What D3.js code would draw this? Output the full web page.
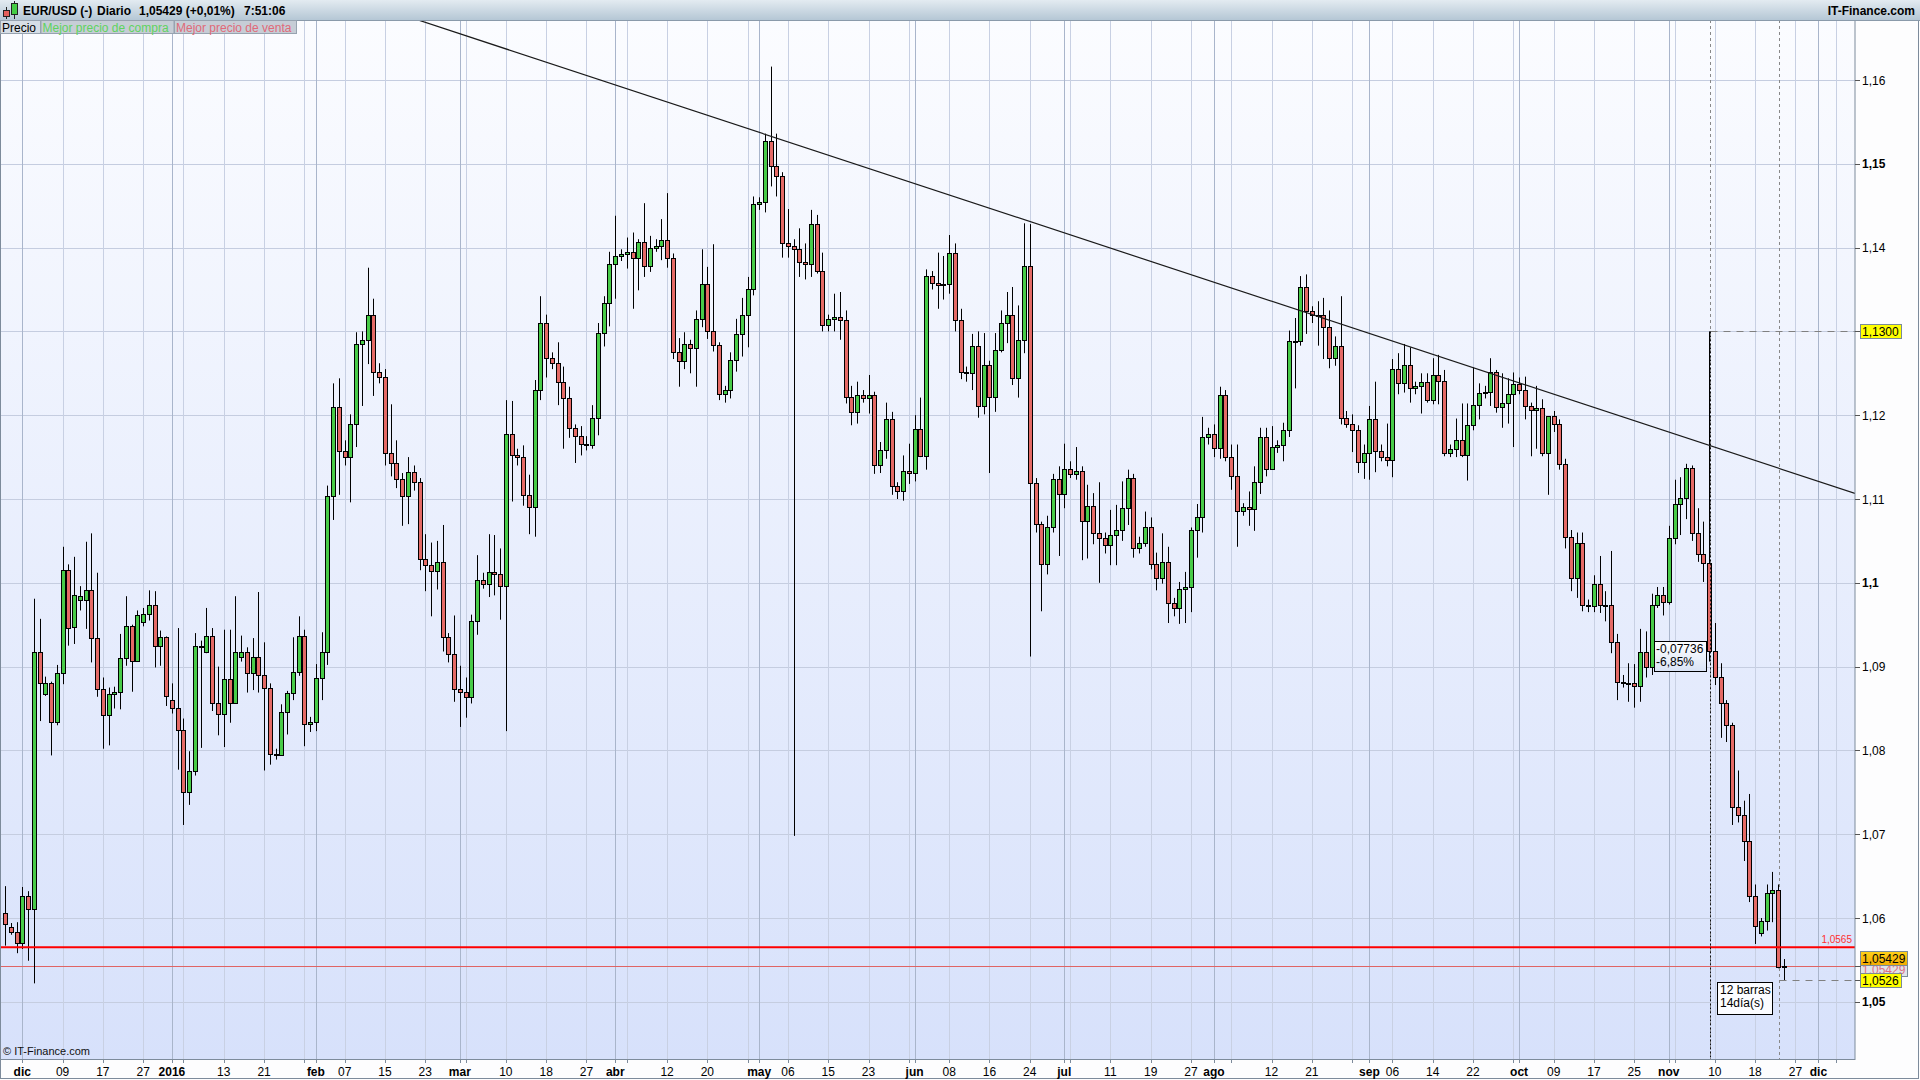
<!DOCTYPE html>
<html><head><meta charset="utf-8">
<script src="https://cdn.jsdelivr.net/npm/d3@7"></script>
<style>
body{margin:0;background:#fff;}
svg{display:block;font-family:"Liberation Sans",Arial,sans-serif;}
</style>
</head><body>
<svg id="chart" width="1920" height="1080"></svg>
<script>
// ---------- DATA: [day, open, high, low, close] per month ----------
const nov2015 = [
[27,1.0606,1.0638,1.0567,1.0593],[29,1.0589,1.0594,1.0580,1.0583],[30,1.0583,1.0595,1.0558,1.0570]];
const dec2015 = [
[1,1.0570,1.0637,1.0563,1.0626],[2,1.0626,1.0632,1.0549,1.0611],[3,1.0611,1.0981,1.0522,1.0917],
[4,1.0917,1.0957,1.0835,1.0880],[6,1.0867,1.0888,1.0865,1.0880],[7,1.0880,1.0882,1.0794,1.0834],
[8,1.0834,1.0902,1.0830,1.0892],[9,1.0892,1.1043,1.0879,1.1015],[10,1.1015,1.1022,1.0925,1.0946],
[11,1.0947,1.1031,1.0927,1.0985],[13,1.0980,1.0996,1.0967,1.0984],[14,1.0980,1.1049,1.0945,1.0991],
[15,1.0991,1.1059,1.0905,1.0934],[16,1.0934,1.1012,1.0864,1.0873],[17,1.0873,1.0887,1.0802,1.0842],
[18,1.0842,1.0875,1.0806,1.0867],[20,1.0867,1.0876,1.0850,1.0870],[21,1.0870,1.0939,1.0849,1.0910],
[22,1.0910,1.0984,1.0901,1.0948],[23,1.0948,1.0950,1.0870,1.0907],[24,1.0907,1.0967,1.0906,1.0961],
[27,1.0953,1.0970,1.0948,1.0963],[28,1.0963,1.0991,1.0955,1.0974],[29,1.0974,1.0990,1.0899,1.0925],
[30,1.0925,1.0943,1.0901,1.0935],[31,1.0935,1.0936,1.0853,1.0865]];
const jan2016 = [
[3,1.0860,1.0880,1.0844,1.0851],[4,1.0851,1.0946,1.0777,1.0824],[5,1.0824,1.0838,1.0711,1.0750],
[6,1.0750,1.0799,1.0735,1.0776],[7,1.0776,1.0940,1.0770,1.0925],[8,1.0925,1.0931,1.0803,1.0923],
[10,1.0917,1.0970,1.0916,1.0936],[11,1.0937,1.0946,1.0847,1.0856],[12,1.0856,1.0900,1.0818,1.0843],
[13,1.0843,1.0944,1.0804,1.0885],[14,1.0885,1.0944,1.0833,1.0856],[15,1.0856,1.0984,1.0856,1.0917],
[17,1.0912,1.0937,1.0906,1.0918],[18,1.0917,1.0923,1.0869,1.0892],[19,1.0892,1.0934,1.0872,1.0911],
[20,1.0911,1.0989,1.0869,1.0890],[21,1.0890,1.0929,1.0776,1.0875],[22,1.0875,1.0880,1.0783,1.0796],
[24,1.0796,1.0802,1.0789,1.0795],[25,1.0795,1.0855,1.0795,1.0846],[26,1.0846,1.0871,1.0819,1.0869],
[27,1.0869,1.0935,1.0860,1.0894],[28,1.0894,1.0960,1.0889,1.0937],[29,1.0937,1.0944,1.0805,1.0831],
[31,1.0831,1.0840,1.0822,1.0834]];
const feb2016 = [
[1,1.0834,1.0903,1.0823,1.0886],[2,1.0886,1.0941,1.0860,1.0918],[3,1.0918,1.1116,1.0902,1.1104],
[4,1.1104,1.1238,1.1075,1.1210],[5,1.1210,1.1244,1.1105,1.1157],[7,1.1157,1.1170,1.1140,1.1150],
[8,1.1150,1.1201,1.1096,1.1190],[9,1.1190,1.1299,1.1162,1.1285],[10,1.1285,1.1300,1.1211,1.1290],
[11,1.1290,1.1376,1.1261,1.1320],[12,1.1320,1.1339,1.1223,1.1252],[14,1.1252,1.1262,1.1238,1.1245],
[15,1.1245,1.1255,1.1140,1.1155],[16,1.1155,1.1213,1.1127,1.1143],[17,1.1143,1.1170,1.1113,1.1124],
[18,1.1124,1.1131,1.1068,1.1104],[19,1.1104,1.1150,1.1070,1.1132],[21,1.1132,1.1140,1.1110,1.1120],
[22,1.1120,1.1125,1.1015,1.1028],[23,1.1028,1.1058,1.0990,1.1021],[24,1.1021,1.1048,1.0960,1.1014],
[25,1.1014,1.1050,1.0992,1.1025],[26,1.1025,1.1069,1.0918,1.0935],[28,1.0935,1.0940,1.0905,1.0915],
[29,1.0915,1.0961,1.0858,1.0873]];
const mar2016 = [
[1,1.0873,1.0901,1.0828,1.0870],[2,1.0870,1.0887,1.0839,1.0864],[3,1.0864,1.0962,1.0856,1.0955],
[4,1.0955,1.1033,1.0938,1.1003],[6,1.1003,1.1012,1.0993,1.0998],[7,1.0998,1.1058,1.0983,1.1013],
[8,1.1013,1.1057,1.0985,1.1010],[9,1.1010,1.1041,1.0956,1.0996],[10,1.0996,1.1218,1.0823,1.1177],
[11,1.1177,1.1217,1.1097,1.1153],[13,1.1153,1.1160,1.1140,1.1150],[14,1.1150,1.1164,1.1092,1.1105],
[15,1.1105,1.1129,1.1058,1.1090],[16,1.1090,1.1242,1.1055,1.1230],[17,1.1230,1.1342,1.1218,1.1310],
[18,1.1310,1.1320,1.1245,1.1268],[20,1.1268,1.1275,1.1255,1.1262],[21,1.1262,1.1287,1.1212,1.1240],
[22,1.1240,1.1258,1.1160,1.1220],[23,1.1220,1.1234,1.1173,1.1185],[24,1.1185,1.1189,1.1143,1.1175],
[25,1.1175,1.1187,1.1152,1.1166],[27,1.1166,1.1175,1.1158,1.1165],[28,1.1165,1.1212,1.1160,1.1197],
[29,1.1197,1.1310,1.1176,1.1298],[30,1.1298,1.1342,1.1282,1.1334],[31,1.1334,1.1395,1.1306,1.1380]];
const apr2016 = [
[1,1.1380,1.1438,1.1339,1.1390],[3,1.1390,1.1398,1.1384,1.1392],[4,1.1392,1.1412,1.1375,1.1395],
[5,1.1395,1.1418,1.1327,1.1387],[6,1.1387,1.1410,1.1349,1.1407],[7,1.1407,1.1453,1.1365,1.1378],
[8,1.1378,1.1414,1.1371,1.1399],[10,1.1399,1.1410,1.1395,1.1402],[11,1.1402,1.1434,1.1385,1.1409],
[12,1.1409,1.1465,1.1376,1.1388],[13,1.1388,1.1393,1.1267,1.1276],[14,1.1276,1.1292,1.1234,1.1265],
[15,1.1265,1.1299,1.1255,1.1285],[17,1.1285,1.1290,1.1250,1.1280],[18,1.1280,1.1325,1.1234,1.1315],
[19,1.1315,1.1398,1.1305,1.1356],[20,1.1356,1.1377,1.1291,1.1300],[21,1.1300,1.1404,1.1276,1.1284],
[22,1.1284,1.1287,1.1218,1.1225],[24,1.1225,1.1235,1.1215,1.1230],[25,1.1230,1.1275,1.1220,1.1266],
[26,1.1266,1.1315,1.1252,1.1297],[27,1.1297,1.1340,1.1270,1.1320],[28,1.1320,1.1365,1.1281,1.1350],
[29,1.1350,1.1461,1.1343,1.1452]];
const may2016 = [
[1,1.1452,1.1460,1.1445,1.1455],[2,1.1455,1.1536,1.1442,1.1527],[3,1.1527,1.1616,1.1473,1.1497],
[4,1.1497,1.1536,1.1461,1.1485],[5,1.1485,1.1490,1.1388,1.1405],[6,1.1405,1.1446,1.1388,1.1402],
[8,1.1402,1.1410,1.0698,1.1398],[9,1.1398,1.1423,1.1365,1.1383],[10,1.1383,1.1405,1.1362,1.1380],
[11,1.1380,1.1445,1.1365,1.1428],[12,1.1428,1.1439,1.1369,1.1372],[13,1.1372,1.1394,1.1300,1.1308],
[15,1.1308,1.1320,1.1300,1.1315],[16,1.1315,1.1345,1.1300,1.1317],[17,1.1317,1.1347,1.1290,1.1314],
[18,1.1314,1.1325,1.1214,1.1222],[19,1.1222,1.1235,1.1188,1.1204],[20,1.1204,1.1240,1.1190,1.1224],
[22,1.1224,1.1230,1.1215,1.1220],[23,1.1220,1.1248,1.1202,1.1224],[24,1.1224,1.1228,1.1130,1.1141],
[25,1.1141,1.1168,1.1131,1.1158],[26,1.1158,1.1215,1.1148,1.1195],[27,1.1195,1.1204,1.1105,1.1115],
[29,1.1115,1.1120,1.1100,1.1110],[30,1.1110,1.1152,1.1098,1.1134],[31,1.1134,1.1166,1.1118,1.1131]];
const jun2016 = [
[1,1.1131,1.1200,1.1121,1.1184],[2,1.1184,1.1221,1.1150,1.1151],[3,1.1151,1.1374,1.1135,1.1366],
[5,1.1366,1.1372,1.1350,1.1358],[6,1.1358,1.1394,1.1327,1.1355],[7,1.1355,1.1390,1.1338,1.1357],
[8,1.1357,1.1415,1.1345,1.1393],[9,1.1393,1.1405,1.1300,1.1314],[10,1.1314,1.1327,1.1243,1.1251],
[12,1.1251,1.1258,1.1240,1.1250],[13,1.1250,1.1297,1.1230,1.1283],[14,1.1283,1.1300,1.1197,1.1211],
[15,1.1211,1.1298,1.1201,1.1260],[16,1.1260,1.1265,1.1131,1.1222],[17,1.1222,1.1298,1.1204,1.1278],
[19,1.1278,1.1325,1.1275,1.1310],[20,1.1310,1.1347,1.1286,1.1319],[21,1.1319,1.1353,1.1236,1.1244],
[22,1.1244,1.1331,1.1221,1.1290],[23,1.1290,1.1429,1.1274,1.1378],[24,1.1378,1.1428,1.0912,1.1119],
[26,1.1119,1.1125,1.1060,1.1070],[27,1.1070,1.1073,1.0966,1.1023],[28,1.1023,1.1080,1.1010,1.1067],
[29,1.1067,1.1130,1.1060,1.1124],[30,1.1124,1.1139,1.1032,1.1106]];
const jul2016 = [
[1,1.1106,1.1166,1.1089,1.1136],[3,1.1136,1.1145,1.1125,1.1130],[4,1.1130,1.1162,1.1123,1.1134],
[5,1.1134,1.1139,1.1027,1.1074],[6,1.1074,1.1117,1.1029,1.1092],[7,1.1092,1.1107,1.1046,1.1059],
[8,1.1059,1.1120,1.1000,1.1053],[10,1.1053,1.1060,1.1035,1.1045],[11,1.1045,1.1087,1.1021,1.1057],
[12,1.1057,1.1093,1.1021,1.1063],[13,1.1063,1.1121,1.1050,1.1089],[14,1.1089,1.1135,1.1069,1.1125],
[15,1.1125,1.1130,1.1030,1.1041],[17,1.1041,1.1055,1.1035,1.1048],[18,1.1048,1.1085,1.1043,1.1067],
[19,1.1067,1.1078,1.1016,1.1023],[20,1.1023,1.1036,1.0991,1.1006],[21,1.1006,1.1059,1.0999,1.1025],
[22,1.1025,1.1043,1.0952,1.0976],[24,1.0976,1.0982,1.0960,1.0970],[25,1.0970,1.1001,1.0951,1.0993],
[26,1.0993,1.1013,1.0952,1.0995],[27,1.0995,1.1066,1.0965,1.1063],[28,1.1063,1.1094,1.1030,1.1078],
[29,1.1078,1.1198,1.1060,1.1174],[31,1.1174,1.1185,1.1165,1.1178]];
const aug2016 = [
[1,1.1178,1.1189,1.1150,1.1161],[2,1.1161,1.1234,1.1148,1.1224],[3,1.1224,1.1230,1.1145,1.1150],
[4,1.1150,1.1165,1.1111,1.1128],[5,1.1128,1.1165,1.1043,1.1086],[7,1.1086,1.1095,1.1080,1.1090],
[8,1.1090,1.1109,1.1068,1.1088],[9,1.1088,1.1139,1.1062,1.1120],[10,1.1120,1.1185,1.1106,1.1174],
[11,1.1174,1.1185,1.1127,1.1136],[12,1.1136,1.1187,1.1136,1.1162],[14,1.1162,1.1170,1.1155,1.1165],
[15,1.1165,1.1191,1.1145,1.1182],[16,1.1182,1.1301,1.1174,1.1288],[17,1.1288,1.1316,1.1232,1.1289],
[18,1.1289,1.1366,1.1283,1.1353],[19,1.1353,1.1368,1.1297,1.1324],[21,1.1324,1.1330,1.1310,1.1320],
[22,1.1320,1.1336,1.1283,1.1319],[23,1.1319,1.1340,1.1267,1.1305],[24,1.1305,1.1325,1.1256,1.1268],
[25,1.1268,1.1294,1.1259,1.1283],[26,1.1283,1.1342,1.1189,1.1197],[28,1.1197,1.1205,1.1185,1.1190],
[29,1.1190,1.1201,1.1156,1.1182],[30,1.1182,1.1188,1.1131,1.1144],[31,1.1144,1.1165,1.1124,1.1155]];
const sep2016 = [
[1,1.1155,1.1211,1.1123,1.1196],[2,1.1196,1.1240,1.1132,1.1157],[4,1.1157,1.1165,1.1145,1.1150],
[5,1.1150,1.1190,1.1139,1.1147],[6,1.1147,1.1267,1.1126,1.1255],[7,1.1255,1.1274,1.1225,1.1238],
[8,1.1238,1.1285,1.1227,1.1260],[9,1.1260,1.1281,1.1215,1.1232],[11,1.1232,1.1240,1.1225,1.1235],
[12,1.1235,1.1250,1.1202,1.1240],[13,1.1240,1.1250,1.1215,1.1218],[14,1.1218,1.1268,1.1213,1.1248],
[15,1.1248,1.1272,1.1213,1.1241],[16,1.1241,1.1254,1.1151,1.1155],[18,1.1155,1.1165,1.1150,1.1160],
[19,1.1160,1.1196,1.1150,1.1170],[20,1.1170,1.1214,1.1150,1.1152],[21,1.1152,1.1214,1.1122,1.1188],
[22,1.1188,1.1257,1.1182,1.1212],[23,1.1212,1.1238,1.1195,1.1226],[25,1.1226,1.1235,1.1220,1.1228],
[26,1.1228,1.1268,1.1211,1.1251],[27,1.1251,1.1254,1.1203,1.1210],[28,1.1210,1.1250,1.1185,1.1214],
[29,1.1214,1.1244,1.1190,1.1225],[30,1.1225,1.1251,1.1162,1.1237]];
const oct2016 = [
[2,1.1237,1.1245,1.1225,1.1230],[3,1.1230,1.1246,1.1195,1.1211],[4,1.1211,1.1215,1.1151,1.1206],
[5,1.1206,1.1235,1.1160,1.1208],[6,1.1208,1.1219,1.1151,1.1155],[7,1.1155,1.1198,1.1105,1.1199],
[9,1.1199,1.1205,1.1180,1.1190],[10,1.1190,1.1195,1.1135,1.1142],[11,1.1142,1.1148,1.1041,1.1055],
[12,1.1055,1.1063,1.0990,1.1006],[13,1.1006,1.1060,1.0982,1.1048],[14,1.1048,1.1060,1.0966,1.0974],
[16,1.0974,1.0980,1.0965,1.0972],[17,1.0972,1.1009,1.0965,1.0998],[18,1.0998,1.1032,1.0964,1.0973],
[19,1.0973,1.0990,1.0954,1.0973],[20,1.0973,1.1038,1.0916,1.0929],[21,1.0929,1.0939,1.0860,1.0882],
[23,1.0882,1.0890,1.0875,1.0880],[24,1.0880,1.0904,1.0858,1.0880],[25,1.0880,1.0903,1.0851,1.0877],
[26,1.0877,1.0945,1.0858,1.0918],[27,1.0918,1.0942,1.0887,1.0899],[28,1.0899,1.0987,1.0890,1.0974],
[30,1.0974,1.0995,1.0970,1.0985],[31,1.0985,1.0995,1.0961,1.0977]];
const nov2016 = [
[1,1.0977,1.1068,1.0974,1.1054],[2,1.1054,1.1123,1.1046,1.1094],[3,1.1094,1.1126,1.1057,1.1101],
[4,1.1101,1.1142,1.1076,1.1137],[6,1.1137,1.1140,1.1050,1.1060],[7,1.1060,1.1089,1.1025,1.1034],
[8,1.1034,1.1073,1.1001,1.1024],[9,1.1024,1.1300,1.0906,1.0919],[10,1.0919,1.0952,1.0878,1.0887],
[11,1.0887,1.0904,1.0815,1.0856],[13,1.0856,1.0860,1.0810,1.0830],[14,1.0830,1.0833,1.0711,1.0732],
[15,1.0732,1.0776,1.0714,1.0723],[16,1.0723,1.0740,1.0668,1.0692],[17,1.0692,1.0748,1.0619,1.0626],
[18,1.0626,1.0640,1.0569,1.0590],[20,1.0582,1.0600,1.0578,1.0597],[21,1.0597,1.0640,1.0585,1.0630],
[22,1.0630,1.0655,1.0595,1.0634],[23,1.0634,1.0640,1.0540,1.0542],[24,1.0542,1.0551,1.0526,1.05429]];
const futureDates = ["2016-11-25","2016-11-27","2016-11-28","2016-11-29","2016-11-30","2016-12-01",
  "2016-12-02","2016-12-04","2016-12-05","2016-12-06","2016-12-07","2016-12-08"];

// axis labels
const yTickValues = [1.05,1.06,1.07,1.08,1.09,1.10,1.11,1.12,1.13,1.14,1.15,1.16];
const yTickLabels = ["1,05","1,06","1,07","1,08","1,09","1,1","1,11","1,12","1,13","1,14","1,15","1,16"];
const yBoldLabels = ["1,05","1,1","1,15"];
const monthTicks = [["2015-12-01","dic"],["2016-01-03","2016"],["2016-02-01","feb"],["2016-03-01","mar"],
  ["2016-04-01","abr"],["2016-05-01","may"],["2016-06-01","jun"],["2016-07-01","jul"],["2016-08-01","ago"],
  ["2016-09-01","sep"],["2016-10-02","oct"],["2016-11-01","nov"],["2016-12-01","dic"]];
const weekTicks = [["2015-12-01",""],["2015-12-09","09"],["2015-12-17","17"],["2015-12-27","27"],["2016-01-05",""],
  ["2016-01-13","13"],["2016-01-21","21"],["2016-01-29",""],["2016-02-07","07"],["2016-02-15","15"],["2016-02-23","23"],
  ["2016-03-02",""],["2016-03-10","10"],["2016-03-18","18"],["2016-03-27","27"],["2016-04-04",""],["2016-04-12","12"],
  ["2016-04-20","20"],["2016-04-28",""],["2016-05-06","06"],["2016-05-15","15"],["2016-05-23","23"],["2016-05-31",""],
  ["2016-06-08","08"],["2016-06-16","16"],["2016-06-24","24"],["2016-07-03",""],["2016-07-11","11"],["2016-07-19","19"],
  ["2016-07-27","27"],["2016-08-04",""],["2016-08-12","12"],["2016-08-21","21"],["2016-08-29",""],["2016-09-06","06"],
  ["2016-09-14","14"],["2016-09-22","22"],["2016-09-30",""],["2016-10-09","09"],["2016-10-17","17"],["2016-10-25","25"],
  ["2016-11-02",""],["2016-11-10","10"],["2016-11-18","18"],["2016-11-27","27"],["2016-12-05",""]];

// annotations
const trendAnchors = [["2016-05-03",1.1533],["2016-11-09",1.1164]];
const supportLevel = 1.0565;
const lastPrice = 1.05429;
const measureStart = ["2016-11-09",1.1300];
const measureEnd = ["2016-11-23",1.0526];
const measureTexts = ["-0,07736","-6,85%"];
const barsTexts = ["12 barras","14día(s)"];
const headerTexts = ["EUR/USD (-)","Diario","1,05429 (+0,01%)","7:51:06"];

// ---------- BUILD ----------
const months = [["2015-11",nov2015],["2015-12",dec2015],["2016-01",jan2016],["2016-02",feb2016],["2016-03",mar2016],
  ["2016-04",apr2016],["2016-05",may2016],["2016-06",jun2016],["2016-07",jul2016],["2016-08",aug2016],
  ["2016-09",sep2016],["2016-10",oct2016],["2016-11",nov2016]];
const bars = [];
months.forEach(([ym, rows]) => rows.forEach(r => bars.push({
  date: ym + "-" + String(r[0]).padStart(2,"0"), o:r[1], h:r[2], l:r[3], c:r[4]})));
const axisDates = bars.map(d => d.date).concat(futureDates);

const P = {left:0, right:1855, top:20, bottom:1059};
const step = 5.757;
const x = d3.scalePoint().domain(axisDates).range([5, 5 + (axisDates.length - 1) * step]);
const y = d3.scaleLinear().domain([1.05, 1.16]).range([1001.8, 80.0]);
const px = v => Math.round(v) + 0.5;

const svg = d3.select("#chart");
const defs = svg.append("defs");
const bg = defs.append("linearGradient").attr("id","bg").attr("x1",0).attr("y1",0).attr("x2",0).attr("y2",1);
bg.append("stop").attr("offset","0%").attr("stop-color","#fbfcff");
bg.append("stop").attr("offset","100%").attr("stop-color","#d7e1fb");
const hg = defs.append("linearGradient").attr("id","hg").attr("x1",0).attr("y1",0).attr("x2",0).attr("y2",1);
hg.append("stop").attr("offset","0%").attr("stop-color","#e3ebf1");
hg.append("stop").attr("offset","100%").attr("stop-color","#b5c7d5");
const og = defs.append("linearGradient").attr("id","og").attr("x1",0).attr("y1",0).attr("x2",0).attr("y2",1);
og.append("stop").attr("offset","0%").attr("stop-color","#ffd21a");
og.append("stop").attr("offset","100%").attr("stop-color","#f2a900");
const mg = defs.append("linearGradient").attr("id","mg").attr("x1",0).attr("y1",0).attr("x2",0).attr("y2",1);
mg.append("stop").attr("offset","0%").attr("stop-color","#ffffff");
mg.append("stop").attr("offset","100%").attr("stop-color","#d9e3f5");
defs.append("clipPath").attr("id","clip").append("rect")
  .attr("x",P.left).attr("y",P.top).attr("width",P.right-P.left).attr("height",P.bottom-P.top);

svg.append("rect").attr("width",1920).attr("height",1080).attr("fill","#fdfdfe");
svg.append("rect").attr("x",P.left).attr("y",P.top).attr("width",P.right-P.left).attr("height",P.bottom-P.top)
  .attr("fill","url(#bg)");

const plot = svg.append("g").attr("clip-path","url(#clip)");

plot.selectAll("line.hg").data(yTickValues).join("line")
  .attr("x1",P.left).attr("x2",P.right).attr("y1",d=>px(y(d))).attr("y2",d=>px(y(d)))
  .attr("stroke","#c5cde0").attr("stroke-width",1);
plot.selectAll("line.wg").data(weekTicks).join("line")
  .attr("x1",d=>px(x(d[0]))).attr("x2",d=>px(x(d[0]))).attr("y1",P.top).attr("y2",P.bottom)
  .attr("stroke","#c8d0e3").attr("stroke-width",1);
plot.selectAll("line.mg").data(monthTicks).join("line")
  .attr("x1",d=>px(x(d[0]))).attr("x2",d=>px(x(d[0]))).attr("y1",P.top).attr("y2",P.bottom)
  .attr("stroke","#a9b5cb").attr("stroke-width",1);

const xs = x(measureStart[0]), xe = x(measureEnd[0]);
[xs, xe].forEach(v => plot.append("line").attr("x1",px(v)+1).attr("x2",px(v)+1).attr("y1",P.top).attr("y2",P.bottom)
  .attr("stroke","#888").attr("stroke-dasharray","3,3"));
plot.append("line").attr("x1",px(xs)+1).attr("x2",P.right).attr("y1",px(y(measureStart[1]))).attr("y2",px(y(measureStart[1])))
  .attr("stroke","#808080").attr("stroke-dasharray","7,6");
plot.append("line").attr("x1",px(xe)+1).attr("x2",P.right).attr("y1",px(y(measureEnd[1]))).attr("y2",px(y(measureEnd[1])))
  .attr("stroke","#808080").attr("stroke-dasharray","7,6");

plot.append("line").attr("x1",P.left).attr("x2",P.right).attr("y1",px(y(lastPrice))).attr("y2",px(y(lastPrice)))
  .attr("stroke","#e06464").attr("stroke-width",1);

const cg = plot.append("g");
cg.selectAll("line.wick").data(bars).join("line")
  .attr("x1",d=>px(x(d.date))).attr("x2",d=>px(x(d.date)))
  .attr("y1",d=>y(d.h)).attr("y2",d=>y(d.l)).attr("stroke","#000").attr("stroke-width",1);
cg.selectAll("rect.body").data(bars).join("rect")
  .attr("x",d=>Math.round(x(d.date)) - 2 + 0.5)
  .attr("width",4)
  .attr("y",d=>Math.round(y(Math.max(d.o,d.c))) + 0.5)
  .attr("height",d=>Math.max(1, Math.round(y(Math.min(d.o,d.c))) - Math.round(y(Math.max(d.o,d.c)))))
  .attr("fill",d=> d.c >= d.o ? "#48cb48" : "#e46a66")
  .attr("stroke","#000").attr("stroke-width",1);

plot.append("line").attr("x1",P.left).attr("x2",P.right).attr("y1",y(supportLevel)).attr("y2",y(supportLevel))
  .attr("stroke","#ff0000").attr("stroke-width",2);
svg.append("text").attr("x",P.right-3).attr("y",y(supportLevel)-4).attr("text-anchor","end")
  .attr("font-size",10).attr("fill","#ff3030").text("1,0565");

const tA = [x(trendAnchors[0][0]), y(trendAnchors[0][1])], tB = [x(trendAnchors[1][0]), y(trendAnchors[1][1])];
const slope = (tB[1]-tA[1])/(tB[0]-tA[0]);
plot.append("line").attr("x1",P.left).attr("y1",tA[1] + (P.left - tA[0])*slope)
  .attr("x2",P.right).attr("y2",tA[1] + (P.right - tA[0])*slope)
  .attr("stroke","#1a1a1a").attr("stroke-width",1.2);

plot.append("line").attr("x1",px(xs)+1).attr("x2",px(xs)+1).attr("y1",y(measureStart[1])).attr("y2",P.bottom)
  .attr("stroke","#111").attr("stroke-dasharray","2,2");

const midY = (y(measureStart[1]) + y(measureEnd[1]))/2;
const mb = svg.append("g");
mb.append("rect").attr("x",Math.round(xs)-55+0.5).attr("y",Math.round(midY)-15+0.5).attr("width",52).attr("height",30)
  .attr("fill","url(#mg)").attr("stroke","#000");
measureTexts.forEach((t,i) => mb.append("text").attr("x",Math.round(xs)-53).attr("y",Math.round(midY)-3+i*13)
  .attr("font-size",12).attr("fill","#000").text(t));
const bb = svg.append("g");
const bcx = (xs+xe)/2, bty = y(measureEnd[1]) + 2;
bb.append("rect").attr("x",Math.round(bcx)-27+0.5).attr("y",Math.round(bty)+0.5).attr("width",55).attr("height",32)
  .attr("fill","#fbfcff").attr("stroke","#000");
barsTexts.forEach((t,i) => bb.append("text").attr("x",Math.round(bcx)-24).attr("y",Math.round(bty)+12+i*13)
  .attr("font-size",12).attr("fill","#000").text(t));

svg.append("text").attr("x",3).attr("y",1055).attr("font-size",11).attr("fill","#111").text("© IT-Finance.com");

svg.append("rect").attr("x",0.5).attr("y",P.top+0.5).attr("width",P.right-0.5).attr("height",P.bottom-P.top)
  .attr("fill","none").attr("stroke","#7d8b9b");
svg.append("rect").attr("x",0.5).attr("y",0.5).attr("width",1918).attr("height",1078)
  .attr("fill","none").attr("stroke","#7d8b9b");

const ya = svg.append("g");
yTickValues.forEach((v,i) => {
  if (yTickLabels[i] === "1,13") return;
  ya.append("line").attr("x1",P.right).attr("x2",P.right+5).attr("y1",px(y(v))).attr("y2",px(y(v))).attr("stroke","#555");
  ya.append("text").attr("x",P.right+7).attr("y",y(v)+4.5).attr("font-size",12)
    .attr("font-weight", yBoldLabels.includes(yTickLabels[i]) ? "bold" : "normal")
    .attr("fill","#000").text(yTickLabels[i]);
});
function axisBox(v, label, fill, dy, w, tcol, stroke) {
  const cy = y(v) + dy;
  ya.append("line").attr("x1",P.right).attr("x2",P.right+6).attr("y1",px(y(v))).attr("y2",px(y(v))).attr("stroke","#555");
  ya.append("rect").attr("x",P.right+5.5).attr("y",Math.round(cy-7)+0.5).attr("width",w).attr("height",14)
    .attr("fill",fill).attr("stroke",stroke);
  ya.append("text").attr("x",P.right+7).attr("y",Math.round(cy)+4.5).attr("font-size",12).attr("fill",tcol).text(label);
}
axisBox(measureStart[1], "1,1300", "#ffff00", 0, 41, "#000", "#7a8a99");
axisBox(lastPrice, "1,05429", "#dfe3ea", 3, 47, "#e07080", "#7a8a99");
axisBox(lastPrice, "1,05429", "url(#og)", -8, 47, "#000", "#7a8a99");
axisBox(measureEnd[1], "1,0526", "#ffff00", 0, 41, "#000", "#7a8a99");

const xa = svg.append("g");
weekTicks.forEach(d => {
  xa.append("line").attr("x1",px(x(d[0]))).attr("x2",px(x(d[0]))).attr("y1",P.bottom).attr("y2",P.bottom+4).attr("stroke","#7d8b9b");
  if (d[1]) xa.append("text").attr("x",x(d[0])).attr("y",1076).attr("text-anchor","middle").attr("font-size",12)
    .attr("fill","#000").text(d[1]);
});
monthTicks.forEach(d => {
  xa.append("line").attr("x1",px(x(d[0]))).attr("x2",px(x(d[0]))).attr("y1",P.bottom).attr("y2",P.bottom+4).attr("stroke","#7d8b9b");
  xa.append("text").attr("x",x(d[0])).attr("y",1076).attr("text-anchor","middle").attr("font-size",12)
    .attr("font-weight","bold").attr("fill","#000").text(d[1]);
});

svg.append("rect").attr("x",0).attr("y",0).attr("width",1920).attr("height",P.top).attr("fill","url(#hg)");
svg.append("line").attr("x1",0).attr("x2",1920).attr("y1",P.top+0.5).attr("y2",P.top+0.5).attr("stroke","#8a9aaa");
svg.append("line").attr("x1",6.5).attr("x2",6.5).attr("y1",7).attr("y2",19).attr("stroke","#222");
svg.append("rect").attr("x",3.5).attr("y",10.5).attr("width",6).attr("height",6).attr("fill","#e4605c").attr("stroke","#222");
svg.append("line").attr("x1",14.5).attr("x2",14.5).attr("y1",1).attr("y2",19).attr("stroke","#222");
svg.append("rect").attr("x",11.5).attr("y",3.5).attr("width",6).attr("height",11).attr("fill","#44cc44").attr("stroke","#222");
const hx = [23, 97, 139, 244];
headerTexts.forEach((t,i) => svg.append("text").attr("x",hx[i]).attr("y",15).attr("font-size",12)
  .attr("font-weight","bold").attr("fill","#000").text(t));
svg.append("text").attr("x",1915).attr("y",15).attr("text-anchor","end").attr("font-size",12)
  .attr("font-weight","bold").attr("fill","#000").text("IT-Finance.com");
const legend = [["Precio","#000","#d7dee6",0,40],["Mejor precio de compra","#5fd35f","#c6cdd6",40.5,133],["Mejor precio de venta","#e06a78","#c6cdd6",174,122]];
legend.forEach(l => {
  svg.append("rect").attr("x",l[3]+0.5).attr("y",20.5).attr("width",l[4]).attr("height",13).attr("fill",l[2]).attr("stroke","#97a3b0");
  svg.append("text").attr("x",l[3]+2).attr("y",31.5).attr("font-size",12).attr("fill",l[1]).text(l[0]);
});
</script>
</body></html>
